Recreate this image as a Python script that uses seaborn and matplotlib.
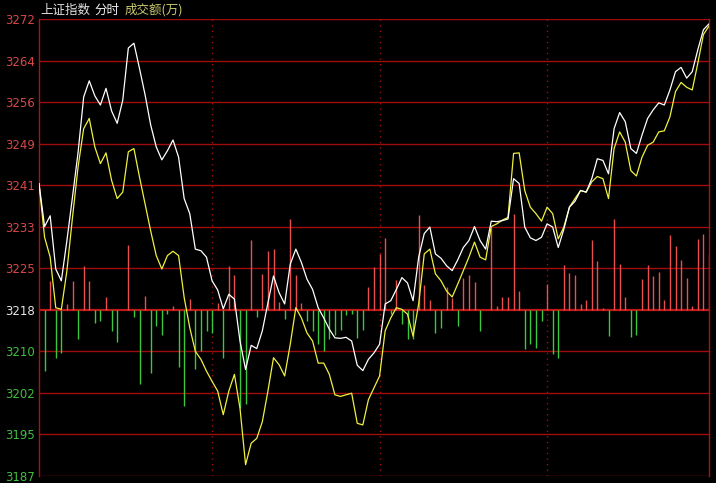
import numpy as np
import pandas as pd
import matplotlib
matplotlib.use("Agg")
import matplotlib.pyplot as plt
import seaborn as sns

# 上证指数 intraday, one point every 2 minutes (121 points)
PRICE = [3241.4, 3233.4, 3235.4, 3225.5, 3223.3, 3230.8, 3238.9, 3247.2, 3257.5, 3260.5,
         3257.7, 3256.0, 3259.1, 3254.9, 3252.6, 3256.9, 3266.6, 3267.5, 3262.8, 3257.9,
         3252.3, 3248.2, 3245.8, 3247.5, 3249.5, 3246.3, 3238.6, 3235.8, 3229.2, 3228.9,
         3227.7, 3223.3, 3221.6, 3218.1, 3220.8, 3219.9, 3212.1, 3206.8, 3211.3, 3210.7,
         3214.0, 3219.2, 3224.2, 3221.1, 3219.0, 3226.4, 3229.2, 3226.7, 3223.6, 3221.7,
         3218.3, 3216.4, 3214.3, 3212.7, 3212.6, 3212.8, 3212.1, 3207.6, 3206.6, 3208.7,
         3209.9, 3211.5, 3219.0, 3219.6, 3221.7, 3223.9, 3222.9, 3219.6, 3227.7, 3232.1,
         3233.3, 3228.3, 3227.5, 3226.1, 3225.2, 3227.2, 3229.5, 3230.8, 3233.4, 3230.8,
         3229.2, 3234.4, 3234.3, 3234.5, 3234.8, 3242.3, 3241.4, 3233.3, 3231.3, 3230.8,
         3231.4, 3233.9, 3233.3, 3229.5, 3232.9, 3237.0, 3238.1, 3240.1, 3239.8, 3242.3,
         3246.0, 3245.7, 3243.2, 3251.6, 3254.6, 3252.9, 3247.9, 3247.0, 3250.4, 3253.5,
         3255.1, 3256.4, 3256.0, 3258.8, 3262.2, 3263.0, 3261.0, 3262.2, 3266.3, 3270.0,
         3271.1]

AVG = [3241.4, 3231.4, 3227.7, 3218.3, 3218.0, 3225.2, 3235.1, 3244.5, 3251.6, 3253.5,
       3248.2, 3245.1, 3247.1, 3242.0, 3238.6, 3239.8, 3247.3, 3247.9, 3242.6, 3237.6,
       3232.6, 3228.0, 3225.5, 3228.0, 3228.8, 3228.0, 3220.2, 3214.6, 3210.2, 3208.7,
       3206.5, 3204.6, 3202.8, 3198.4, 3202.8, 3205.9, 3199.6, 3189.1, 3193.1, 3194.0,
       3197.1, 3202.8, 3209.0, 3207.7, 3205.6, 3211.5, 3218.3, 3216.4, 3213.6, 3212.1,
       3208.0, 3208.0, 3205.9, 3202.1, 3201.8, 3202.1, 3202.4, 3196.8, 3196.5, 3201.2,
       3203.4, 3205.6, 3214.0, 3216.4, 3218.3, 3218.0, 3217.1, 3213.0, 3219.0, 3228.3,
       3229.2, 3224.6, 3223.3, 3221.4, 3220.3, 3222.7, 3225.2, 3227.7, 3230.5, 3227.7,
       3227.2, 3233.4, 3233.9, 3234.6, 3235.1, 3247.0, 3247.1, 3240.1, 3237.0, 3235.8,
       3234.4, 3237.0, 3235.8, 3231.1, 3233.3, 3237.0, 3238.6, 3240.1, 3239.8, 3241.7,
       3242.7, 3242.3, 3238.6, 3247.9, 3251.0, 3249.1, 3243.8, 3242.8, 3246.3, 3248.5,
       3249.1, 3251.0, 3251.2, 3253.8, 3258.5, 3260.2, 3259.3, 3258.8, 3263.8, 3269.1,
       3270.7]

# signed turnover bars, in price-axis units above / below the base line
VOL_BAR = [0, -11.4, 5.4, -8.9, -8.0, 1.1, 5.3, -5.5, 8.2, 5.3,
           -2.4, -2.0, 2.4, -4.0, -5.9, 0, 12.1, -1.4, -13.8, 2.6,
           -11.7, -3.0, -4.6, -0.8, 0.7, -10.7, -17.9, 2.0, -11.0, -7.7,
           -4.0, -4.4, 1.2, -8.9, 8.2, 6.5, -18.2, -17.6, 13.0, -1.3,
           6.7, 10.9, 11.4, 1.4, -1.7, 16.8, 6.4, 1.2, -2.0, -3.9,
           -6.3, -7.7, -5.5, -4.6, -3.7, -0.9, -0.7, -5.2, -3.8, 4.2,
           8.0, 10.3, 13.4, -0.7, 5.5, -2.6, -5.5, -5.5, 17.7, 4.7,
           1.8, -4.4, -3.3, 4.2, 2.2, -3.0, 6.0, 6.5, 5.1, -4.0,
           0, 15.3, 0.7, 2.3, 2.3, 17.8, 3.5, -7.3, -6.4, -7.1,
           -2.0, 4.8, -8.3, -8.9, 8.3, 6.8, 6.5, 1.1, 1.8, 13.0,
           9.1, 0.3, -4.9, 16.8, 8.6, 2.3, -5.0, -4.7, 5.8, 8.4,
           6.2, 7.1, 1.8, 13.9, 11.8, 9.2, 5.9, 0.8, 13.2, 14.1,
           10.3]

BASE = 3218
Y_MIN, Y_MAX = 3187, 3272
Y_LABELS = ["3187", "3195", "3202", "3210", "3218", "3225", "3233", "3241", "3249", "3256", "3264", "3272"]
V_GRID = [31, 61, 91]

sns.set_style("dark")
plt.rcParams["font.family"] = ["Noto Sans CJK SC", "DejaVu Sans"]

df = pd.DataFrame({"t": np.arange(len(PRICE)), "price": PRICE, "avg": AVG, "vol": VOL_BAR})

fig = plt.figure(figsize=(7.16, 4.83), dpi=100, facecolor="black")
ax = fig.add_axes([39 / 716, 7 / 483, 670 / 716, 457 / 483])
ax.set_facecolor("black")

# grid
ticks = np.linspace(Y_MIN, Y_MAX, len(Y_LABELS))
for i, t in enumerate(ticks):
    if Y_LABELS[i] == str(BASE):
        ax.axhline(t, color="#c01818", lw=1.6, zorder=1)
    else:
        ax.axhline(t, color="#a00c0c", lw=1.0, zorder=1)
for v in V_GRID:
    ax.axvline(v, color="#a00c0c", lw=1.0, ls=(0, (1, 3)), zorder=1)

# turnover bars
up = df[df["vol"] > 0]
dn = df[df["vol"] < 0]
ax.vlines(up["t"], ticks[4], ticks[4] + up["vol"], color="#e85050", lw=1.0, zorder=2)
ax.vlines(dn["t"], ticks[4], ticks[4] + dn["vol"], color="#3cc83c", lw=1.0, zorder=2)

# price + average lines
sns.lineplot(data=df, x="t", y="avg", ax=ax, color="#f0f040", lw=0.9, zorder=3)
sns.lineplot(data=df, x="t", y="price", ax=ax, color="white", lw=0.9, zorder=4)

ax.set_xlim(0, 120)
ax.set_ylim(Y_MIN, Y_MAX)
ax.set_xticks([])
ax.set_yticks(ticks)
ax.set_yticklabels(Y_LABELS)
ax.set_xlabel("")
ax.set_ylabel("")
ax.tick_params(axis="y", length=0, pad=3, labelsize=8.5)
for lab in ax.get_yticklabels():
    val = int(lab.get_text())
    if val > BASE:
        lab.set_color("#d84848")
    elif val < BASE:
        lab.set_color("#40c040")
    else:
        lab.set_color("#e8e8e8")
    lab.set_family("DejaVu Sans")

for side in ["left", "right"]:
    ax.spines[side].set_color("#b01010")
    ax.spines[side].set_linewidth(1.0)
for side in ["top", "bottom"]:
    ax.spines[side].set_visible(False)
ax.grid(False)

# header text
fig.text(40 / 716, 1 - 10 / 483, "上证指数", color="#e0e0e0", fontsize=9, va="center", ha="left")
fig.text(94 / 716, 1 - 10 / 483, "分时", color="#f0f0f0", fontsize=9, va="center", ha="left")
fig.text(125 / 716, 1 - 10 / 483, "成交额(万)", color="#c8c870", fontsize=9, va="center", ha="left")

fig.savefig("out.png", dpi=100, facecolor="black")
plt.close(fig)
print("[OK] saved out.png")
